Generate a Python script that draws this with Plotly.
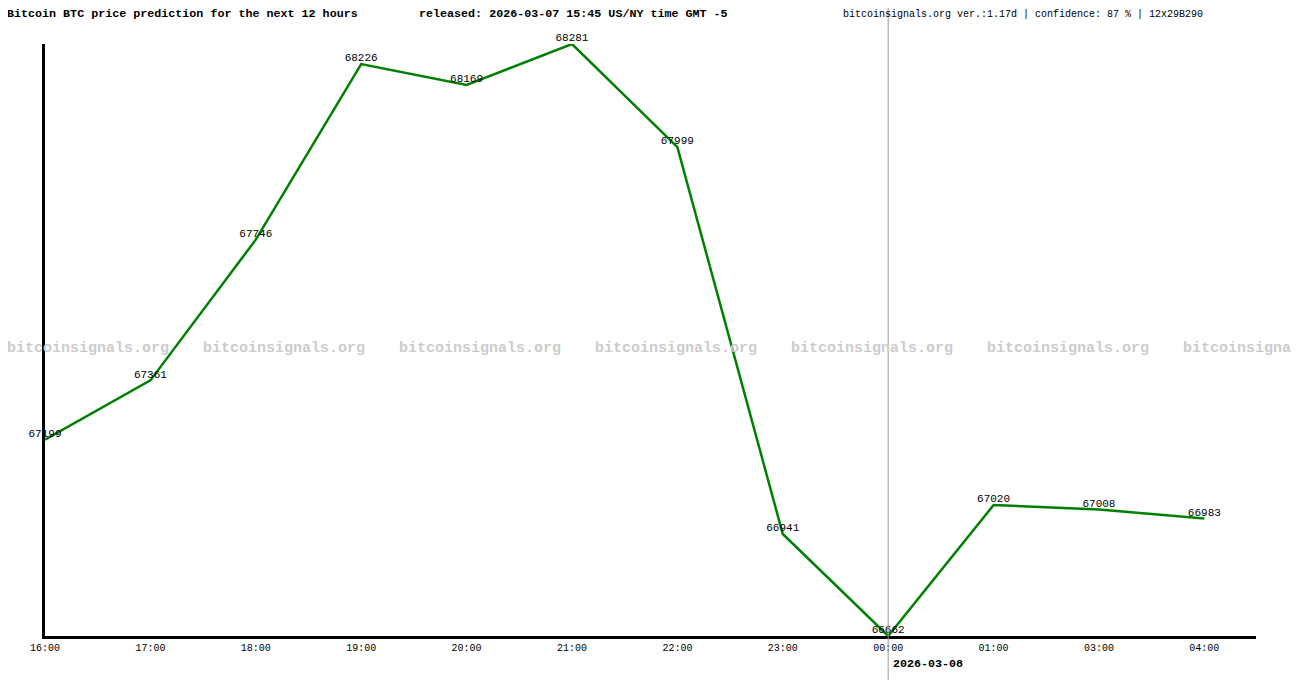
import plotly.graph_objects as go

# Forecast hours (categorical axis, note 02:00 is skipped in the source)
hours = ["16:00", "17:00", "18:00", "19:00", "20:00", "21:00",
         "22:00", "23:00", "00:00", "01:00", "03:00", "04:00"]
prices = [67199, 67361, 67746, 68226, 68169, 68281,
          67999, 66941, 66662, 67020, 67008, 66983]

title_left = "Bitcoin BTC price prediction for the next 12 hours"
title_mid = "released: 2026-03-07 15:45 US/NY time GMT -5"
title_right = "bitcoinsignals.org ver.:1.17d | confidence: 87 % | 12x29B290"
day_break = "00:00"
day_label = "2026-03-08"
watermark = "bitcoinsignals.org"

MONO = "Liberation Mono, DejaVu Sans Mono, monospace"
W, H = 1300, 680
OFF = 8  # the page body adds an 8px margin, pull everything back by that
L, T = 45 - OFF, 44 - OFF
plot_w, plot_h = 1211, 592
R = W - L - plot_w
B = H - T - plot_h


def px_x(px):
    return (px - 2 - OFF - L) / plot_w


def px_y(py):
    return (T + plot_h - (py - OFF)) / plot_h


fig = go.Figure()

fig.add_trace(
    go.Scatter(
        x=hours,
        y=prices,
        mode="lines",
        line=dict(color="#008000", width=2.5),
        hoverinfo="x+y",
        showlegend=False,
    )
)

# value labels just above each point
fig.add_trace(
    go.Scatter(
        x=hours,
        y=prices,
        mode="text",
        text=[str(p) for p in prices],
        textposition="top center",
        textfont=dict(family=MONO, size=11, color="black"),
        cliponaxis=False,
        hoverinfo="skip",
        showlegend=False,
    )
)

annotations = []

# repeated watermark across the middle of the chart
for i in range(7):
    annotations.append(
        dict(
            text="<b>" + watermark + "</b>",
            x=px_x(7 + 196 * i),
            y=px_y(348),
            xref="paper",
            yref="paper",
            xanchor="left",
            yanchor="middle",
            showarrow=False,
            font=dict(family=MONO, size=15, color="#cccccc"),
        )
    )

# header texts
for txt, px, bold, size in [
    (title_left, 7, True, 11.7),
    (title_mid, 419, True, 11.7),
    (title_right, 843, False, 10),
]:
    annotations.append(
        dict(
            text=("<b>" + txt + "</b>") if bold else txt,
            x=px_x(px),
            y=px_y(14),
            xref="paper",
            yref="paper",
            xanchor="left",
            yanchor="middle",
            showarrow=False,
            font=dict(family=MONO, size=size, color="black"),
        )
    )

# date of the day break below the axis
annotations.append(
    dict(
        text="<b>" + day_label + "</b>",
        x=hours.index(day_break),
        y=px_y(664),
        xref="x",
        yref="paper",
        xanchor="left",
        yanchor="middle",
        xshift=3,
        showarrow=False,
        font=dict(family=MONO, size=11.7, color="black"),
    )
)

fig.update_layout(
    width=W,
    height=H,
    margin=dict(l=L, r=R, t=T, b=B),
    paper_bgcolor="white",
    plot_bgcolor="white",
    annotations=annotations,
    shapes=[
        dict(
            type="line",
            xref="x",
            yref="paper",
            x0=hours.index(day_break),
            x1=hours.index(day_break),
            y0=px_y(690),
            y1=px_y(-10),
            line=dict(color="#999999", width=1),
            layer="above",
        )
    ],
    xaxis=dict(
        type="category",
        range=[0, 11.49],
        showgrid=False,
        zeroline=False,
        showline=True,
        linecolor="black",
        linewidth=3,
        ticks="",
        tickfont=dict(family=MONO, size=10, color="black"),
    ),
    yaxis=dict(
        range=[min(prices), max(prices)],
        showgrid=False,
        zeroline=False,
        showline=True,
        linecolor="black",
        linewidth=3,
        showticklabels=False,
        ticks="",
    ),
)

fig.write_html("out.html")
